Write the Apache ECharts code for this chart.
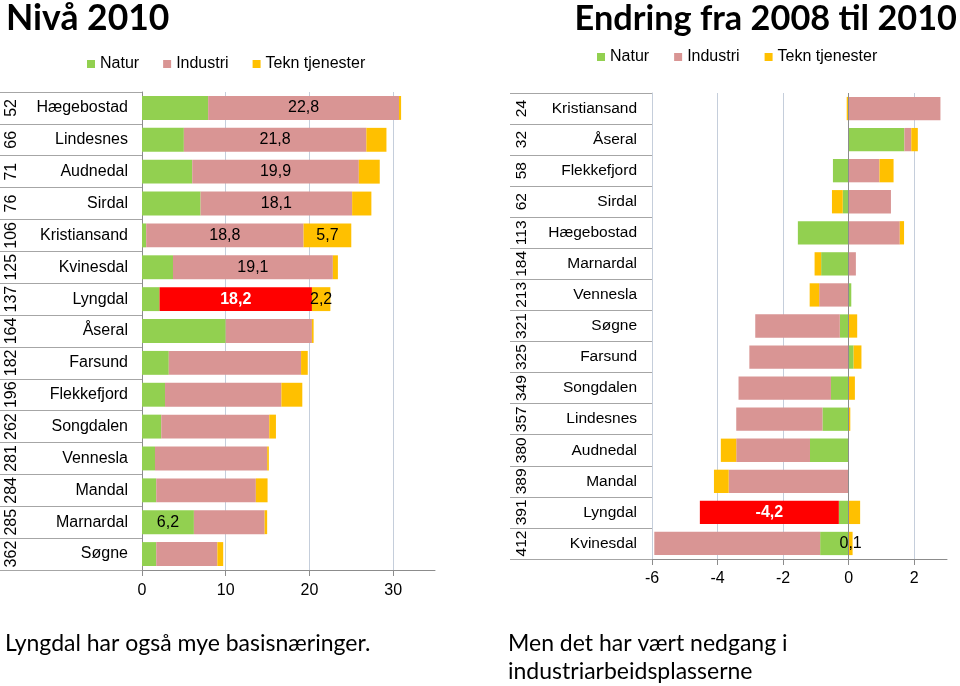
<!DOCTYPE html>
<html><head><meta charset="utf-8">
<script src="https://cdn.jsdelivr.net/npm/echarts@6/dist/echarts.min.js"></script>
<style>html,body{margin:0;padding:0;background:#fff}#c{width:960px;height:686px}</style>
</head><body><div id="c"></div>
<script>
// ---- Left chart: Nivå 2010 ----
const leftCategories = ['Hægebostad','Lindesnes','Audnedal','Sirdal','Kristiansand','Kvinesdal','Lyngdal','Åseral','Farsund','Flekkefjord','Songdalen','Vennesla','Mandal','Marnardal','Søgne'];
const leftRanks = ['52','66','71','76','106','125','137','164','182','196','262','281','284','285','362'];
const leftNatur = [7.9, 5.0, 6.0, 7.0, 0.5, 3.7, 2.1, 10.0, 3.2, 2.75, 2.3, 1.55, 1.7, 6.2, 1.7];
const leftIndustri = [22.8, 21.8, 19.9, 18.1, 18.8, 19.1, 18.2, 10.3, 15.8, 13.9, 12.9, 13.4, 11.9, 8.45, 7.3];
const leftTekn = [0.25, 2.4, 2.5, 2.3, 5.7, 0.6, 2.2, 0.2, 0.8, 2.5, 0.8, 0.2, 1.4, 0.3, 0.7];
const leftNaturLabels = ['Marnardal'];
const leftIndustriLabels = ['Hægebostad','Lindesnes','Audnedal','Sirdal','Kristiansand','Kvinesdal','Lyngdal'];
const leftTeknLabels = ['Kristiansand','Lyngdal'];
const leftTicks = [0, 10, 20, 30];

// ---- Right chart: Endring fra 2008 til 2010 ----
const rightCategories = ['Kristiansand','Åseral','Flekkefjord','Sirdal','Hægebostad','Marnardal','Vennesla','Søgne','Farsund','Songdalen','Lindesnes','Audnedal','Mandal','Lyngdal','Kvinesdal'];
const rightRanks = ['24','32','58','62','113','184','213','321','325','349','357','380','389','391','412'];
const rightNatur = [0, 1.7, -0.48, -0.18, -1.55, -0.84, 0.08, -0.27, 0.15, -0.54, -0.8, -1.18, 0, -0.3, -0.87];
const rightIndustri = [2.8, 0.21, 0.94, 1.29, 1.56, 0.22, -0.9, -2.58, -3.03, -2.82, -2.63, -2.25, -3.66, -4.24, -5.06];
const rightTekn = [-0.06, 0.2, 0.43, -0.33, 0.13, -0.2, -0.29, 0.26, 0.24, 0.19, 0.05, -0.47, -0.45, 0.35, 0.12];
const rightNaturLabels = [];
const rightIndustriLabels = ['Lyngdal'];
const rightTeknLabels = ['Kvinesdal'];
const rightTicks = [-6, -4, -2, 0, 2];

const highlightName = 'Lyngdal';
const seriesNames = ['Natur','Industri','Tekn tjenester'];
const colors = ['#92D050','#D99594','#FFC000'];
const highlightColor = '#FF0000';
const FONT = '"Liberation Sans", Arial, sans-serif';

function fmt(v){ return v.toFixed(1).replace('.', ','); }

function buildData(cats, vals, labelNames, highlight){
  return vals.map((v,i)=>{
    const item = {value: v, label: {show: labelNames.indexOf(cats[i]) >= 0}};
    if (highlight && cats[i] === highlightName){
      item.itemStyle = {color: highlightColor};
      item.label.color = '#fff';
      item.label.fontWeight = 'bold';
    }
    return item;
  });
}

function makeSeries(cats, arrs, labelSets, gridIdx, stack, fs, extra){
  return arrs.map((vals, k)=>{
    const s = {
      name: seriesNames[k], type:'bar', stack: stack,
      xAxisIndex: gridIdx, yAxisIndex: gridIdx*2,
      barCategoryGap: '25%',
      itemStyle: {color: colors[k]},
      label: {show:false, position:'inside', color:'#000', fontSize: fs, fontFamily: FONT,
              formatter: p => fmt(p.value)},
      data: buildData(cats, vals, labelSets[k], k === 1)
    };
    if (k === 0 && extra) Object.assign(s, extra);
    return s;
  });
}

const chart = echarts.init(document.getElementById('c'), null, {renderer:'canvas'});

function catAxis(gridIdx, cats, fs, margin, lineColor){
  return {
    type:'category', gridIndex: gridIdx, data: cats, inverse: true, position:'left',
    axisLine:{show:true, onZero:false, lineStyle:{color: lineColor, width:1}},
    axisTick:{show:true, length:142, interval:0, lineStyle:{color:'#A6A6A6', width:1}},
    axisLabel:{color:'#000', fontSize: fs, fontFamily: FONT, margin: margin, interval:0},
    splitLine:{show:false}
  };
}
function rankAxis(gridIdx, ranks, fs){
  return {
    type:'category', gridIndex: gridIdx, data: ranks, inverse: true, position:'left', offset:122,
    axisLine:{show:false}, axisTick:{show:false},
    axisLabel:{color:'#000', fontSize: fs, fontFamily: FONT, margin:0, rotate:90, interval:0},
    splitLine:{show:false}
  };
}
function valAxis(gridIdx, ticks, max, fs, margin){
  return {
    type:'value', gridIndex: gridIdx, min: ticks[0], max: max, interval: ticks[1]-ticks[0],
    axisLine:{show:true, onZero:false, lineStyle:{color:'#8C8C8C'}},
    axisTick:{show:true, length:6, lineStyle:{color:'#8C8C8C'}},
    axisLabel:{color:'#000', fontSize: fs, fontFamily: FONT, margin: margin, showMaxLabel:false,
               formatter: v => ticks.indexOf(v) >= 0 ? String(v) : ''},
    splitLine:{show:true, showMaxLine:false, lineStyle:{color:'#C5CEDB', width:1}}
  };
}

const option = {
  animation:false,
  backgroundColor:'#fff',
  title:[
    {text:'Nivå 2010', left:6, top:2, padding:0, textStyle:{fontFamily:'Lato', fontWeight:'bold', fontSize:35.5, lineHeight:34, color:'#000'}},
    {text:'Endring fra 2008 til 2010', right:3, top:2, padding:0, textStyle:{fontFamily:'Lato', fontWeight:'bold', fontSize:34.3, lineHeight:34, color:'#000'}},
    {text:'Lyngdal har også mye basisnæringer.', left:5, top:630, padding:0, textStyle:{fontFamily:'Lato', fontWeight:'normal', fontSize:23, lineHeight:28, color:'#000'}},
    {text:'Men det har vært nedgang i\nindustriarbeidsplasserne', left:508, top:630, padding:0, textStyle:{fontFamily:'Lato', fontWeight:'normal', fontSize:23, lineHeight:28, color:'#000'}}
  ],
  legend:[
    {data: seriesNames, left:87, top:56, padding:0, itemWidth:8, itemHeight:8, itemGap:24, icon:'rect',
     textStyle:{fontFamily:FONT, fontSize:16, color:'#000'}},
    {data: seriesNames, left:597, top:49, padding:0, itemWidth:8, itemHeight:8, itemGap:25, icon:'rect',
     textStyle:{fontFamily:FONT, fontSize:16, color:'#000'}}
  ],
  grid:[
    {left:142, top:92, width:293, height:478, containLabel:false},
    {left:652, top:93, width:295, height:466, containLabel:false}
  ],
  xAxis:[ valAxis(0, leftTicks, 35, 16, 13), valAxis(1, rightTicks, 3, 16, 12) ],
  yAxis:[
    catAxis(0, leftCategories, 16, 14, '#8C8C8C'),
    rankAxis(0, leftRanks, 16),
    catAxis(1, rightCategories, 15.5, 15, '#C5CEDB'),
    rankAxis(1, rightRanks, 15.5)
  ],
  series: [].concat(
    makeSeries(leftCategories, [leftNatur, leftIndustri, leftTekn], [leftNaturLabels, leftIndustriLabels, leftTeknLabels], 0, 'L', 16, null),
    makeSeries(rightCategories, [rightNatur, rightIndustri, rightTekn], [rightNaturLabels, rightIndustriLabels, rightTeknLabels], 1, 'R', 16,
      {markLine:{silent:true, symbol:'none', label:{show:false}, lineStyle:{color:'#8C8C8C', type:'solid', width:1}, data:[{xAxis:0}]}})
  )
};
chart.setOption(option);
</script></body></html>
